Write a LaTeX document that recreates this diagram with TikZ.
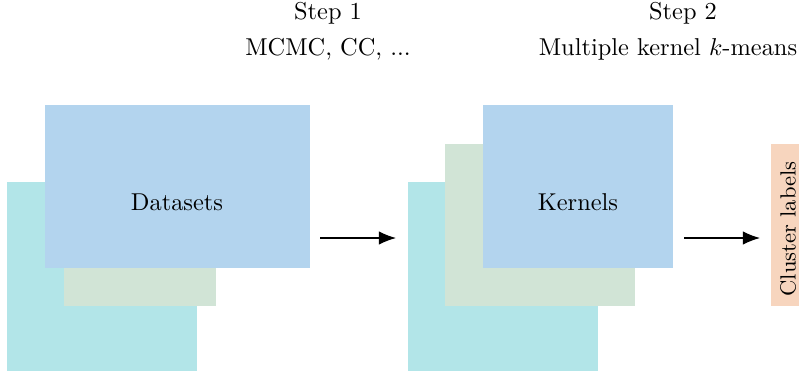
\documentclass[tikz,border=0pt]{standalone}
\usetikzlibrary{arrows.meta}
\definecolor{topblue}{RGB}{179,212,238}
\definecolor{midgreen}{RGB}{209,228,214}
\definecolor{backteal}{RGB}{178,229,232}
\definecolor{outorange}{RGB}{247,213,190}

\begin{document}
\begin{tikzpicture}[x=0.41pt,y=-0.41pt,
		flow/.style={-{Latex[length=7pt,width=5.5pt]}, line width=0.5pt},
		lbl/.style={inner sep=0pt}]
		%%%%% START %%%%%
		\useasboundingbox (0,0) rectangle (799,375);
		
		% step titles
		\node[lbl] (step1) at (328, 13) {Step 1};
		\node[lbl] (meth1) at (328, 49) {MCMC, CC, ...};
		\node[lbl] (step2) at (683, 13) {Step 2};
		\node[lbl] (meth2) at (668, 49) {Multiple kernel $k$-means};
		
		% datasets stack
		\fill[backteal] (7, 182) rectangle (197, 371);
		\fill[midgreen] (64, 144) rectangle (216, 306);
		\fill[topblue] (45, 105) rectangle (310, 268);
		\node[lbl] (data) at (177, 202) {Datasets};
		
		% kernels stack
		\fill[backteal] (408, 182) rectangle (598, 371);
		\fill[midgreen] (445, 144) rectangle (635, 306);
		\fill[topblue] (483, 105) rectangle (673, 268);
		\node[lbl] (kern) at (578, 202) {Kernels};
		
		% output
		\fill[outorange] (771, 144) rectangle (799, 306);
		\node[lbl, rotate=90, font=\small] (clus) at (788, 229) {Cluster labels};
		
		\coordinate (a1s) at (320, 238);
		\coordinate (a1e) at (396, 238);
		\coordinate (a2s) at (684, 238);
		\coordinate (a2e) at (760, 238);
		\draw[flow] (a1s) -- (a1e);
		\draw[flow] (a2s) -- (a2e);
		
		%%%%% END %%%%%
	\end{tikzpicture}
\end{document}
